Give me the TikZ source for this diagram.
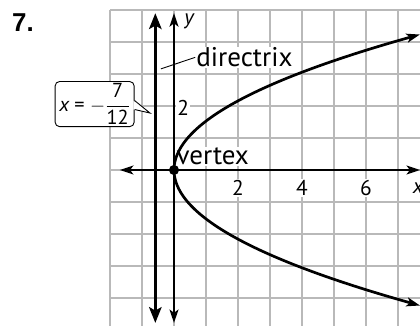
\documentclass[tikz,border=0pt]{standalone}
\usepackage{amsmath}
\usepackage{fontspec}
\setmainfont{PT Sans}
\newfontfamily\numfont{Liberation Sans}
\usetikzlibrary{arrows.meta}

\begin{document}
\begin{tikzpicture}[>={Stealth[length=12pt,width=8pt,inset=3pt]},
    gridline/.style={gray!55, line width=1pt},
    ticklbl/.style={fill=white, inner sep=1pt, font=\fontsize{19}{21}\selectfont},
    biglbl/.style={fill=white, inner sep=1pt, font=\fontsize{24}{26}\selectfont}]

    \useasboundingbox (-5.4375,-4.875) rectangle (7.6875,5.3125);

    % Gitter
    \foreach \i in {-2,...,7}
        \draw[gridline] (\i,-4.875) -- (\i,5);
    \foreach \j in {-4,...,5}
        \draw[gridline] (-2,\j) -- (7.6875,\j);

    % Beschriftungen
    \node[ticklbl] (xt2) at (2,-0.56) {2};
    \node[ticklbl] (xt4) at (4,-0.56) {4};
    \node[ticklbl] (xt6) at (6,-0.56) {6};
    \node[ticklbl] (yt2) at (0.29,1.94) {2};
    \node[ticklbl, anchor=west] (xname) at (7.42,-0.56) {\itshape x};
    \node[ticklbl] (yname) at (0.47,4.66) {\itshape y};
    \node[biglbl, anchor=west] (vlabel) at (0.04,0.43) {vertex};
    \node[biglbl, anchor=west] (dlabel) at (0.66,3.52) {directrix};
    \node[font=\numfont\bfseries\fontsize{23}{25}\selectfont] (num) at (-4.72,4.62) {7.};

    % Achsen
    \coordinate (xl) at (-1.69,0);
    \coordinate (xr) at (7.6875,0);
    \coordinate (yb) at (0,-4.78);
    \coordinate (yt) at (0,4.9);
    \draw[<->, line width=1.6pt] (xl) -- (xr);
    \draw[<->, line width=1.6pt] (yb) -- (yt);

    % Leitlinie
    \coordinate (db) at (-7/12,-4.78);
    \coordinate (dt) at (-7/12,4.9);
    \draw[{Stealth[length=14pt,width=11pt,inset=3pt]}-{Stealth[length=14pt,width=11pt,inset=3pt]}, line width=3pt] (db) -- (dt);
    \coordinate (dfoot) at (-0.41,3.16);
    \draw[line width=0.8pt] (dfoot) -- (dlabel.west);

    % Parabel
    \draw[<->, line width=2.4pt] plot[domain=-4.235:4.235, samples=80, smooth] ({3/7*\x*\x},\x);
    \node[circle, fill, inner sep=0pt, minimum size=9pt] (vtx) at (0,0) {};

    % Sprechblase
    \node[draw, fill=white, rounded corners=4pt, line width=0.8pt, minimum width=2.47cm, minimum height=1.31cm,
        inner sep=2pt, font=\fontsize{18}{20}\selectfont] (callout) at (-2.48,2.06) {{\itshape x} = $-\dfrac{\text{7}}{\text{12}}$};
    \coordinate (pa) at ([yshift=0.11cm]callout.east);
    \coordinate (pb) at ([yshift=-0.17cm]callout.east);
    \coordinate (tip) at (-0.75,1.78);
    \fill[white] ([xshift=-1pt]pa) -- (tip) -- ([xshift=-1pt]pb) -- cycle;
    \draw[line width=0.8pt] (pa) -- (tip) -- (pb);
\end{tikzpicture}
\end{document}
